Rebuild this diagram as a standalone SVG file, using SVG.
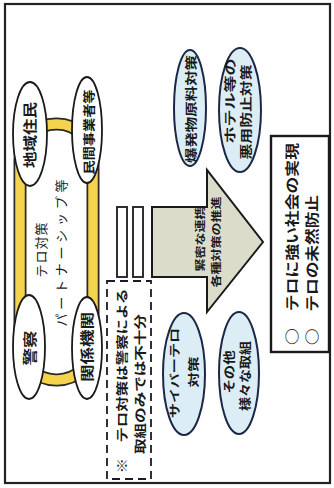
<svg xmlns="http://www.w3.org/2000/svg" width="334" height="488" viewBox="0 0 334 488">
<style>
text{font-family:"Noto Sans CJK JP","Noto Sans CJK SC",sans-serif;fill:#1a1a1a;dominant-baseline:central;text-anchor:start}
.b{font-weight:bold}
.wel{fill:#ffffff;stroke:#1a1a1a;stroke-width:1.8}
.bel{fill:#dcedf5;stroke:#1c2848;stroke-width:2}
</style>
<rect x="0" y="0" width="334" height="488" fill="#ffffff"/>
<rect x="5" y="4" width="325" height="479" fill="none" stroke="#222" stroke-width="2.2"/>

<g id="connectors">
  <rect x="20" y="124" width="73" height="256" rx="36" ry="36" fill="none" stroke="#2a2a2a" stroke-width="13"/>
  <rect x="20" y="124" width="73" height="256" rx="36" ry="36" fill="none" stroke="#f4d44c" stroke-width="9.5"/>
</g>

<g id="partnership-label">
  <text font-size="13" transform="translate(40,277.5) rotate(-90)" textLength="55" lengthAdjust="spacing">テロ対策</text>
  <text font-size="13" transform="translate(60,326.5) rotate(-90)" textLength="147" lengthAdjust="spacing">パートナーシップ等</text>
</g>

<g id="node-chiiki">
  <ellipse class="wel" cx="30" cy="134" rx="17" ry="52"/>
  <text class="b" font-size="14" transform="translate(29,168) rotate(-90)" textLength="66" lengthAdjust="spacingAndGlyphs">地域住民</text>
</g>
<g id="node-minkan">
  <ellipse class="wel" cx="87" cy="130" rx="15" ry="53"/>
  <text class="b" font-size="12.5" transform="translate(88,174.5) rotate(-90)" textLength="85" lengthAdjust="spacingAndGlyphs">民間事業者等</text>
</g>
<g id="node-keisatsu">
  <ellipse class="wel" cx="29" cy="347" rx="16" ry="52"/>
  <text class="b" font-size="14" transform="translate(29,365.5) rotate(-90)" textLength="35" lengthAdjust="spacingAndGlyphs">警察</text>
</g>
<g id="node-kankei">
  <ellipse class="wel" cx="87" cy="348" rx="15" ry="51"/>
  <text class="b" font-size="13.5" transform="translate(86,382) rotate(-90)" textLength="70" lengthAdjust="spacingAndGlyphs">関係機関</text>
</g>

<g id="node-arrow">
  <rect x="117" y="207" width="10" height="70" fill="#ffffff" stroke="#1a1a1a" stroke-width="1.8"/>
  <rect x="133" y="207" width="10" height="70" fill="#ffffff" stroke="#1a1a1a" stroke-width="1.8"/>
  <polygon points="152,207 207,207 207,170 263,242 207,312 207,277 152,277" fill="#dcdccb" stroke="#1a1a1a" stroke-width="2"/>
  <text class="b" font-size="10" transform="translate(199,271.5) rotate(-90)" textLength="65" lengthAdjust="spacingAndGlyphs">緊密な連携</text>
  <text class="b" font-size="10" transform="translate(215,287.5) rotate(-90)" textLength="91" lengthAdjust="spacingAndGlyphs">各種対策の推進</text>
</g>

<g id="node-note">
  <rect x="107" y="281" width="44" height="198" fill="none" stroke="#1a1a2a" stroke-width="1.8" stroke-dasharray="8,5"/>
  <text class="b" font-size="12" transform="translate(121,473.5) rotate(-90)" textLength="185" lengthAdjust="spacingAndGlyphs">※　テロ対策は警察による</text>
  <text class="b" font-size="12" transform="translate(139,454) rotate(-90)" textLength="140" lengthAdjust="spacingAndGlyphs">取組のみでは不十分</text>
</g>

<g id="node-bakuhatsu">
  <ellipse class="bel" cx="190" cy="108" rx="16" ry="58"/>
  <text class="b" font-size="12" transform="translate(190,163) rotate(-90)" textLength="108" lengthAdjust="spacingAndGlyphs">爆発物原料対策</text>
</g>
<g id="node-hotel">
  <ellipse class="bel" cx="240" cy="110" rx="21" ry="62"/>
  <text class="b" font-size="12" transform="translate(229,143.5) rotate(-90)" textLength="85" lengthAdjust="spacingAndGlyphs">ホテル等の</text>
  <text class="b" font-size="12" transform="translate(245,159.5) rotate(-90)" textLength="95" lengthAdjust="spacingAndGlyphs">悪用防止対策</text>
</g>
<g id="node-cyber">
  <ellipse class="bel" cx="184" cy="374" rx="21" ry="61"/>
  <text class="b" font-size="11" transform="translate(174,418) rotate(-90)" textLength="90" lengthAdjust="spacingAndGlyphs">サイバーテロ</text>
  <text class="b" font-size="11" transform="translate(193,387.5) rotate(-90)" textLength="31" lengthAdjust="spacingAndGlyphs">対策</text>
</g>
<g id="node-sonota">
  <ellipse class="bel" cx="239" cy="373" rx="20" ry="61"/>
  <text class="b" font-size="12" transform="translate(228,393.5) rotate(-90)" textLength="43" lengthAdjust="spacingAndGlyphs">その他</text>
  <text class="b" font-size="12" transform="translate(244,411) rotate(-90)" textLength="70" lengthAdjust="spacingAndGlyphs">様々な取組</text>
</g>

<g id="node-goal">
  <rect x="271" y="136" width="58" height="216" fill="#ffffff" stroke="#1a1a1a" stroke-width="2.4"/>
  <text class="b" font-size="14" transform="translate(291,345) rotate(-90)" textLength="202" lengthAdjust="spacingAndGlyphs">○　テロに強い社会の実現</text>
  <text class="b" font-size="14" transform="translate(311,345) rotate(-90)" textLength="150" lengthAdjust="spacingAndGlyphs">○　テロの未然防止</text>
</g>
</svg>
